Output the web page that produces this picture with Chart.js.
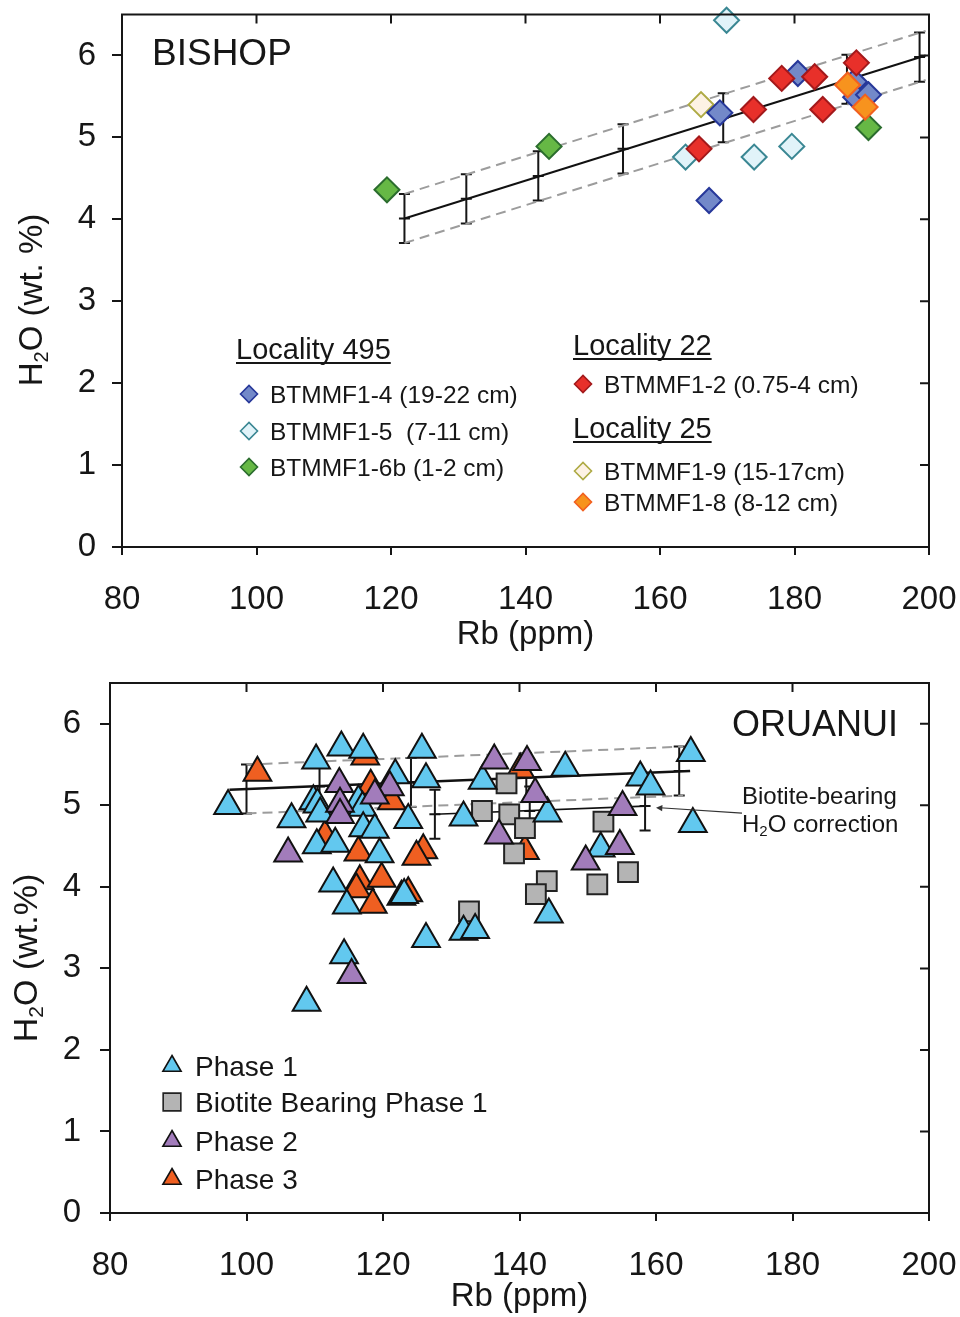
<!DOCTYPE html>
<html>
<head>
<meta charset="utf-8">
<title>Bishop and Oruanui H2O vs Rb</title>
<script src="https://cdn.jsdelivr.net/npm/chart.js@4.4.1/dist/chart.umd.min.js"></script>
<style>
  html, body { margin: 0; padding: 0; background: #fff; }
  #wrap { position: relative; width: 960px; height: 1317px; }
  .panel { position: absolute; left: 0; width: 960px; }
  #bishop { top: 0; height: 665px; }
  #oruanui { top: 665px; height: 652px; }
</style>
</head>
<body>
<div id="wrap">
  <div class="panel" id="bishop"><canvas id="bishopChart" width="960" height="665"></canvas></div>
  <div class="panel" id="oruanui"><canvas id="oruanuiChart" width="960" height="652"></canvas></div>
</div>
<script>
const FONT = "'Liberation Sans', Arial, Helvetica, sans-serif";
const INK = '#161616';

// ---------- Bishop data (Rb ppm, H2O wt.%) ----------
const bt4Rb = [180.5, 188.9, 189.1, 191.0, 168.9, 167.3];
const bt4H2O = [5.78, 5.68, 5.49, 5.52, 5.30, 4.23];
const bt5Rb = [169.9, 163.8, 174.0, 179.6];
const bt5H2O = [6.43, 4.76, 4.76, 4.89];
const bt6bRb = [119.4, 143.5, 191.0];
const bt6bH2O = [4.36, 4.89, 5.12];
const bt2Rb = [189.2, 178.1, 183.0, 184.2, 173.9, 165.8];
const bt2H2O = [5.91, 5.72, 5.74, 5.34, 5.34, 4.86];
const bt9Rb = [166.1];
const bt9H2O = [5.40];
const bt8Rb = [187.9, 190.5];
const bt8H2O = [5.64, 5.37];

// regression line, its +/- envelope and error bars
const bishopFitRb = [122, 199.5];
const bishopFitH2O = [4.01, 6.00];
const bishopUpperH2O = [4.31, 6.30];
const bishopLowerH2O = [3.71, 5.70];
const bishopBarRb = [122, 131.2, 141.9, 154.5, 169.4, 187.8, 198.6];
const bishopBarH2O = [4.01, 4.25, 4.53, 4.86, 5.24, 5.71, 5.98];
const bishopBarErr = 0.3;

// ---------- Oruanui data ----------
const phase1Rb = [97.3, 106.6, 110.2, 113.9, 117.1, 125.7, 126.3, 109.8, 110.4, 110.8, 116.4, 117.0,
  121.8, 123.7, 110.3, 113.0, 117.1, 118.8, 119.5, 112.7, 123.1, 114.7, 126.3, 114.3, 108.8, 146.7,
  134.6, 144.1, 131.8, 144.3, 131.8, 133.5, 151.9, 157.7, 159.2, 165.1, 165.4];
const phase1H2O = [4.99, 4.83, 5.55, 5.71, 5.68, 5.68, 5.32, 5.05, 5.01, 4.90, 5.05, 4.97,
  5.37, 4.82, 4.51, 4.53, 4.72, 4.70, 4.40, 4.04, 3.90, 3.77, 3.36, 3.16, 2.58, 5.46,
  5.30, 4.90, 4.85, 3.66, 3.45, 3.47, 4.47, 5.34, 5.23, 5.64, 4.77];
const biotiteRb = [138.1, 134.5, 138.5, 140.8, 139.2, 144.0, 142.4, 132.6, 152.3, 155.9, 151.4];
const biotiteH2O = [5.27, 4.93, 4.89, 4.72, 4.41, 4.07, 3.91, 3.70, 4.80, 4.18, 4.03];
const phase2Rb = [106.1, 113.6, 113.7, 113.7, 121.0, 118.8, 115.4, 136.3, 141.1, 142.3, 137.0, 155.1, 154.7, 149.7];
const phase2H2O = [4.41, 5.26, 5.02, 4.88, 5.22, 5.12, 2.92, 5.55, 5.53, 5.14, 4.63, 4.98, 4.50, 4.31];
const phase3Rb = [101.6, 117.4, 118.2, 121.3, 111.5, 116.4, 125.9, 124.9, 116.6, 116.1, 119.8, 122.7, 123.7, 118.5, 140.1, 140.8];
const phase3H2O = [5.40, 5.60, 5.24, 5.05, 4.62, 4.42, 4.45, 4.37, 4.07, 3.97, 4.10, 3.88, 3.92, 3.78, 5.44, 4.44];

const oruFitRb = [97.5, 165.0];
const oruFitH2O = [5.19, 5.42];
const oruEnvRb = [100.0, 164.0];
const oruUpperH2O = [5.50, 5.72];
const oruLowerH2O = [4.90, 5.12];
const oruBarRb = [100.0, 110.7, 124.1, 141.0, 163.4];
const oruBarH2O = [5.20, 5.23, 5.28, 5.34, 5.42];
const biotiteFitRb = [127.6, 158.4];
const biotiteFitH2O = [4.89, 4.99];
const biotiteBarRb = [127.6, 141.5, 158.4];
const biotiteBarH2O = [4.89, 4.93, 4.99];
const oruBarErr = 0.3;

const xTicks = [80, 100, 120, 140, 160, 180, 200];
const yTicks = [0, 1, 2, 3, 4, 5, 6];

// ---------- helpers ----------
const toPoints = (xs, ys) => xs.map((x, i) => ({ x, y: ys[i] }));

function scatterSet(s, style, radius, order) {
  return {
    type: 'scatter',
    label: s.label,
    data: toPoints(s.rb, s.h2o),
    pointStyle: style,
    pointRadius: radius,
    pointHoverRadius: radius,
    backgroundColor: s.fill,
    borderColor: s.edge,
    borderWidth: 2,
    clip: false,
    order
  };
}

function lineSet(xs, ys, color, width, dash) {
  return {
    type: 'line',
    data: toPoints(xs, ys),
    borderColor: color,
    borderWidth: width,
    borderDash: dash || [],
    pointRadius: 0,
    fill: false,
    clip: false,
    order: 100
  };
}

function axes(yWidth, xHeight, titlePad, yPad) {
  const zeroPad = s => { s.paddingTop = 0; s.paddingBottom = 0; s.paddingLeft = 0; s.paddingRight = 0; };
  return {
    x: {
      type: 'linear', min: 80, max: 200,
      afterBuildTicks: s => { s.ticks = xTicks.map(v => ({ value: v })); },
      afterFit: s => { s.height = xHeight; zeroPad(s); },
      ticks: { font: { size: 33 }, color: INK, padding: 25 },
      grid: { drawOnChartArea: false, tickLength: 8, color: INK, lineWidth: 2 },
      border: { color: INK, width: 2 },
      title: { display: true, text: 'Rb (ppm)', color: INK, font: { size: 33 }, padding: { top: 0, bottom: titlePad } }
    },
    y: {
      type: 'linear', min: 0, max: 6.5,
      afterBuildTicks: s => { s.ticks = yTicks.map(v => ({ value: v })); },
      afterFit: s => { s.width = yWidth; zeroPad(s); },
      ticks: { font: { size: 33 }, color: INK, padding: yPad },
      grid: { drawOnChartArea: false, tickLength: 10, color: INK, lineWidth: 2 },
      border: { color: INK, width: 2 }
    }
  };
}

// top and right sides of the box, with inward ticks
const framePlugin = {
  id: 'frame',
  afterDraw(chart) {
    const { ctx, chartArea: a, scales: { x, y } } = chart;
    ctx.save();
    ctx.strokeStyle = INK;
    ctx.lineWidth = 2;
    ctx.beginPath();
    ctx.moveTo(a.left - 1, a.top);
    ctx.lineTo(a.right, a.top);
    ctx.lineTo(a.right, a.bottom + 1);
    x.ticks.forEach(t => {
      const px = x.getPixelForValue(t.value);
      ctx.moveTo(px, a.top);
      ctx.lineTo(px, a.top + 9);
    });
    y.ticks.forEach(t => {
      const py = y.getPixelForValue(t.value);
      ctx.moveTo(a.right, py);
      ctx.lineTo(a.right - 9, py);
    });
    ctx.stroke();
    ctx.restore();
  }
};

function errorBars(groups) {
  return {
    id: 'errorBars',
    beforeDatasetsDraw(chart) {
      const { ctx, scales: { x, y } } = chart;
      ctx.save();
      ctx.strokeStyle = INK;
      ctx.lineWidth = 2;
      groups.forEach(g => {
        g.rb.forEach((rb, i) => {
          const px = x.getPixelForValue(rb);
          const mid = y.getPixelForValue(g.h2o[i]);
          const top = y.getPixelForValue(g.h2o[i] + g.err);
          const bot = y.getPixelForValue(g.h2o[i] - g.err);
          ctx.beginPath();
          ctx.moveTo(px, top); ctx.lineTo(px, bot);
          [top, mid, bot].forEach(py => { ctx.moveTo(px - 5.5, py); ctx.lineTo(px + 5.5, py); });
          ctx.stroke();
        });
      });
      ctx.restore();
    }
  };
}

function drawSubscripted(ctx, pieces, x, y, size, align, angle) {
  ctx.save();
  ctx.translate(x, y);
  ctx.rotate(angle || 0);
  ctx.fillStyle = INK;
  ctx.textBaseline = 'middle';
  ctx.textAlign = 'left';
  const fontFor = sub => `${sub ? Math.round(size * 0.62) : size}px ${FONT}`;
  const widths = pieces.map(([t, sub]) => { ctx.font = fontFor(sub); return ctx.measureText(t).width; });
  const total = widths.reduce((a, b) => a + b, 0);
  let cx = align === 'center' ? -total / 2 : 0;
  pieces.forEach(([t, sub], i) => {
    ctx.font = fontFor(sub);
    ctx.fillText(t, cx, sub ? size * 0.28 : 0);
    cx += widths[i];
  });
  ctx.restore();
}

function drawMarker(ctx, s, style, radius, px, py) {
  ctx.save();
  ctx.fillStyle = s.fill;
  ctx.strokeStyle = s.edge;
  ctx.lineWidth = 1.6;
  Chart.helpers.drawPoint(ctx, { pointStyle: style, radius, rotation: 0, borderWidth: 1.6 }, px, py);
  ctx.restore();
}

function drawText(ctx, text, px, py, size, align, underline) {
  ctx.save();
  ctx.font = `${size}px ${FONT}`;
  ctx.fillStyle = INK;
  ctx.textAlign = align || 'left';
  ctx.textBaseline = 'alphabetic';
  ctx.fillText(text, px, py);
  if (underline) {
    const w = ctx.measureText(text).width;
    ctx.strokeStyle = INK;
    ctx.lineWidth = 2;
    ctx.beginPath();
    ctx.moveTo(px, py + 4);
    ctx.lineTo(px + w, py + 4);
    ctx.stroke();
  }
  ctx.restore();
}

Chart.defaults.font.family = FONT;
Chart.defaults.color = INK;

// ---------- BISHOP ----------
const bishopSeries = [
  { label: 'BTMMF1-8 (8-12 cm)', rb: bt8Rb, h2o: bt8H2O, fill: '#f7931e', edge: '#f2601f' },
  { label: 'BTMMF1-2 (0.75-4 cm)', rb: bt2Rb, h2o: bt2H2O, fill: '#e8302a', edge: '#a3191b' },
  { label: 'BTMMF1-4 (19-22 cm)', rb: bt4Rb, h2o: bt4H2O, fill: '#7389c9', edge: '#27389a' },
  { label: 'BTMMF1-6b (1-2 cm)', rb: bt6bRb, h2o: bt6bH2O, fill: '#66b845', edge: '#2b6d2e' },
  { label: 'BTMMF1-5  (7-11 cm)', rb: bt5Rb, h2o: bt5H2O, fill: '#e1f3f9', edge: '#3a8793' },
  { label: 'BTMMF1-9 (15-17cm)', rb: bt9Rb, h2o: bt9H2O, fill: '#fdf2e4', edge: '#aeaa44' }
];

const bishopHeads = [
  { text: 'Locality 495', x: 236, y: 359 },
  { text: 'Locality 22', x: 573, y: 355 },
  { text: 'Locality 25', x: 573, y: 438 }
];
const bishopKeys = [
  { label: 'BTMMF1-4 (19-22 cm)', x: 249, y: 394 },
  { label: 'BTMMF1-5  (7-11 cm)', x: 249, y: 431 },
  { label: 'BTMMF1-6b (1-2 cm)', x: 249, y: 467 },
  { label: 'BTMMF1-2 (0.75-4 cm)', x: 583, y: 384 },
  { label: 'BTMMF1-9 (15-17cm)', x: 583, y: 471 },
  { label: 'BTMMF1-8 (8-12 cm)', x: 583, y: 502 }
];

const bishopDecor = {
  id: 'bishopDecor',
  afterDraw(chart) {
    const ctx = chart.ctx;
    drawText(ctx, 'BISHOP', 152, 65, 37);
    drawSubscripted(ctx, [['H', false], ['2', true], ['O (wt. %)', false]], 33, 300, 33, 'center', -Math.PI / 2);
    bishopHeads.forEach(h => drawText(ctx, h.text, h.x, h.y, 29, 'left', true));
    bishopKeys.forEach(k => {
      const s = bishopSeries.find(d => d.label === k.label);
      drawMarker(ctx, s, 'rectRot', 8.5, k.x, k.y);
      drawText(ctx, k.label, k.x + 21, k.y + 9, 24.5);
    });
  }
};

new Chart(document.getElementById('bishopChart'), {
  type: 'scatter',
  data: {
    datasets: [
      ...bishopSeries.map((s, i) => scatterSet(s, 'rectRot', 12.5, i)),
      lineSet(bishopFitRb, bishopFitH2O, '#111', 2),
      lineSet(bishopFitRb, bishopUpperH2O, '#9c9c9c', 2, [10, 6]),
      lineSet(bishopFitRb, bishopLowerH2O, '#9c9c9c', 2, [10, 6])
    ]
  },
  options: {
    responsive: false,
    animation: false,
    events: [],
    layout: { padding: { top: 10, right: 31, left: 0, bottom: 0 } },
    scales: axes(122, 118, 10, 16),
    plugins: { legend: { display: false }, tooltip: { enabled: false } }
  },
  plugins: [errorBars([{ rb: bishopBarRb, h2o: bishopBarH2O, err: bishopBarErr }]), framePlugin, bishopDecor]
});

// ---------- ORUANUI ----------
const oruSeries = {
  phase1: { label: 'Phase 1', rb: phase1Rb, h2o: phase1H2O, fill: '#62c8ef', edge: '#111', style: 'triangle', r: 16 },
  biotite: { label: 'Biotite Bearing Phase 1', rb: biotiteRb, h2o: biotiteH2O, fill: '#b4b4b4', edge: '#222', style: 'rect', r: 14 },
  phase2: { label: 'Phase 2', rb: phase2Rb, h2o: phase2H2O, fill: '#a27cbb', edge: '#111', style: 'triangle', r: 16 },
  phase3: { label: 'Phase 3', rb: phase3Rb, h2o: phase3H2O, fill: '#ef5f21', edge: '#111', style: 'triangle', r: 16 }
};
// drawing order: first entry ends up on top
const oruStack = ['phase2', 'phase1', 'biotite', 'phase3'];
const oruKeys = [
  { key: 'phase1', y: 401, r: 10.5 },
  { key: 'biotite', y: 437, r: 12.5 },
  { key: 'phase2', y: 476, r: 10.5 },
  { key: 'phase3', y: 514, r: 10.5 }
];

const oruanuiDecor = {
  id: 'oruanuiDecor',
  afterDraw(chart) {
    const { ctx, chartArea: a, scales: { x, y } } = chart;
    drawText(ctx, 'ORUANUI', a.right - 31, 71, 36, 'right');
    drawSubscripted(ctx, [['H', false], ['2', true], ['O (wt.%)', false]], 28, 293, 34, 'center', -Math.PI / 2);

    // note and arrow pointing at the corrected fit
    drawText(ctx, 'Biotite-bearing', a.right - 187, 139, 24);
    drawSubscripted(ctx, [['H', false], ['2', true], ['O correction', false]], a.right - 187, 160, 24, 'left', 0);
    const tipX = x.getPixelForValue(160.0), tipY = y.getPixelForValue(4.97);
    const tailX = x.getPixelForValue(172.6), tailY = y.getPixelForValue(4.905);
    ctx.save();
    ctx.strokeStyle = '#333';
    ctx.fillStyle = '#333';
    ctx.lineWidth = 1.2;
    ctx.beginPath();
    ctx.moveTo(tailX, tailY);
    ctx.lineTo(tipX + 4, tipY);
    ctx.stroke();
    const ang = Math.atan2(tipY - tailY, tipX - tailX);
    ctx.beginPath();
    ctx.moveTo(tipX, tipY);
    ctx.lineTo(tipX - 7 * Math.cos(ang - 0.45), tipY - 7 * Math.sin(ang - 0.45));
    ctx.lineTo(tipX - 7 * Math.cos(ang + 0.45), tipY - 7 * Math.sin(ang + 0.45));
    ctx.closePath();
    ctx.fill();
    ctx.restore();

    oruKeys.forEach(k => {
      const s = oruSeries[k.key];
      drawMarker(ctx, s, s.style, k.r, 172, k.y);
      drawText(ctx, s.label, 195, k.y + 10, 28);
    });
  }
};

new Chart(document.getElementById('oruanuiChart'), {
  type: 'scatter',
  data: {
    datasets: [
      ...oruStack.map((k, i) => scatterSet(oruSeries[k], oruSeries[k].style, oruSeries[k].r, i)),
      lineSet(oruFitRb, oruFitH2O, '#111', 2.4),
      lineSet(oruEnvRb, oruUpperH2O, '#9c9c9c', 2, [10, 6]),
      lineSet(oruEnvRb, oruLowerH2O, '#9c9c9c', 2, [10, 6]),
      lineSet(biotiteFitRb, biotiteFitH2O, '#111', 1.6)
    ]
  },
  options: {
    responsive: false,
    animation: false,
    events: [],
    layout: { padding: { top: 18, right: 31, left: 0, bottom: 0 } },
    scales: axes(110, 104, 0, 19),
    plugins: { legend: { display: false }, tooltip: { enabled: false } }
  },
  plugins: [
    errorBars([
      { rb: oruBarRb, h2o: oruBarH2O, err: oruBarErr },
      { rb: biotiteBarRb, h2o: biotiteBarH2O, err: oruBarErr }
    ]),
    framePlugin,
    oruanuiDecor
  ]
});
</script>
</body>
</html>
